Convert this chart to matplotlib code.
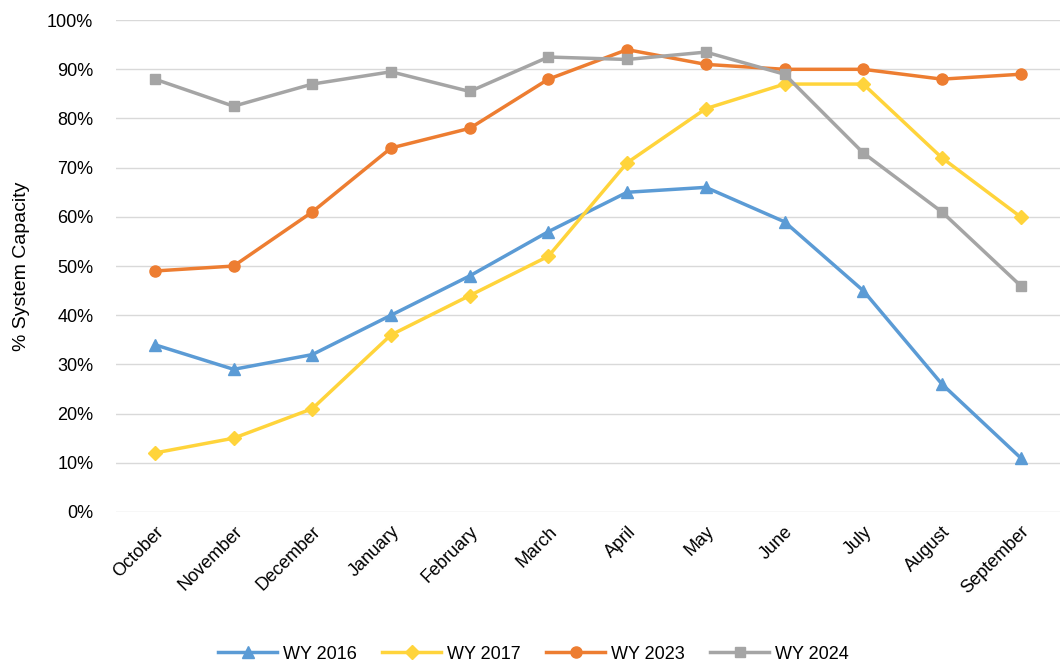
import matplotlib.pyplot as plt
from matplotlib.ticker import PercentFormatter

months = ['October', 'November', 'December', 'January', 'February', 'March',
          'April', 'May', 'June', 'July', 'August', 'September']
wy2016 = [34, 29, 32, 40, 48, 57, 65, 66, 59, 45, 26, 11]
wy2017 = [12, 15, 21, 36, 44, 52, 71, 82, 87, 87, 72, 60]
wy2023 = [49, 50, 61, 74, 78, 88, 94, 91, 90, 90, 88, 89]
wy2024 = [88, 82.5, 87, 89.5, 85.5, 92.5, 92, 93.5, 89, 73, 61, 46]

plt.rcParams['font.family'] = ['Liberation Sans', 'DejaVu Sans']

fig = plt.figure(figsize=(10.6, 6.71), dpi=100)
ax = fig.add_axes([0.109, 0.237, 0.891, 0.733])

x = list(range(len(months)))
ax.plot(x, wy2016, color='#5B9BD5', marker='^', markersize=8, linewidth=2.5, label='WY 2016')
ax.plot(x, wy2017, color='#FFD43B', marker='D', markersize=7, linewidth=2.5, label='WY 2017')
ax.plot(x, wy2023, color='#ED7D31', marker='o', markersize=8, linewidth=2.5, label='WY 2023')
ax.plot(x, wy2024, color='#A5A5A5', marker='s', markersize=7, linewidth=2.5, label='WY 2024')

ax.set_xlim(-0.5, 11.5)
ax.set_ylim(0, 100)
ax.set_yticks(range(0, 101, 10))
ax.yaxis.set_major_formatter(PercentFormatter(decimals=0))
ax.set_xticks(x)
ax.set_xticklabels(months, rotation=45, ha='right', rotation_mode='anchor', fontsize=13)
ax.tick_params(axis='y', labelsize=13, length=0, pad=16)
ax.tick_params(axis='x', length=0, pad=8)
ax.grid(axis='y', color='#D9D9D9', linewidth=1)
ax.set_axisbelow(True)
for s in ax.spines.values():
    s.set_visible(False)
ax.set_ylabel('% System Capacity', fontsize=14, labelpad=12)

fig.legend(loc='lower center', ncol=4, frameon=False, fontsize=13,
           bbox_to_anchor=(0.503, -0.012), handlelength=3.3, handletextpad=0.3,
           columnspacing=1.4)

fig.savefig('out.png', dpi=100)
